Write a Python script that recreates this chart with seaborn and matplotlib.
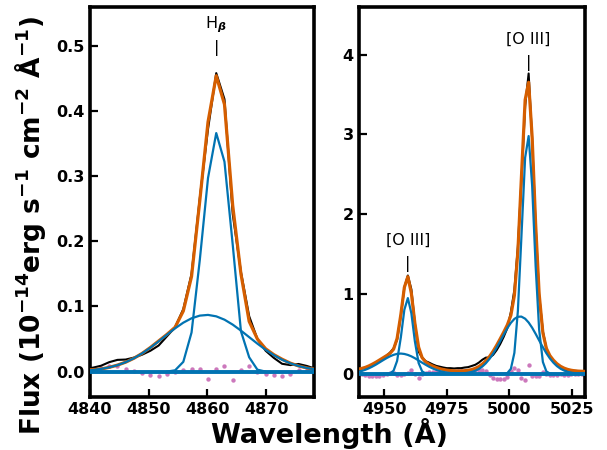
import matplotlib
matplotlib.use("Agg")
import matplotlib.pyplot as plt
import seaborn as sns

# ---------------- data ----------------
# H-beta panel
wl_l = [4839.1, 4840.5, 4841.9, 4843.3, 4844.7, 4846.1, 4847.5, 4848.9, 4850.3, 4851.7,
        4853.1, 4854.5, 4855.9, 4857.3, 4858.7, 4860.1, 4861.5, 4862.9, 4864.3, 4865.7,
        4867.1, 4868.5, 4869.9, 4871.3, 4872.7, 4874.1, 4875.5, 4876.9, 4878.3, 4879.7]
obs_l = [0.005, 0.006, 0.009, 0.0145, 0.018, 0.0185, 0.0215, 0.026, 0.032, 0.040,
         0.054, 0.068, 0.096, 0.150, 0.266, 0.372, 0.458, 0.418, 0.242, 0.153,
         0.085, 0.050, 0.032, 0.021, 0.012, 0.010, 0.0117, 0.0087, 0.0046, 0.003]
fit_l = [0.002, 0.003, 0.004, 0.0065, 0.010, 0.0145, 0.0205, 0.028, 0.037, 0.047,
         0.057, 0.068, 0.093, 0.146, 0.262, 0.383, 0.454, 0.410, 0.255, 0.150,
         0.077, 0.050, 0.035, 0.026, 0.019, 0.013, 0.0087, 0.0057, 0.0036, 0.0024]
broad_l = [0.0015, 0.0025, 0.0041, 0.0065, 0.0099, 0.0145, 0.0205, 0.0280, 0.0367, 0.0464,
           0.0565, 0.0664, 0.0751, 0.0818, 0.0859, 0.0870, 0.0848, 0.0797, 0.0721, 0.0629,
           0.0529, 0.0429, 0.0335, 0.0252, 0.0182, 0.0127, 0.0086, 0.0056, 0.0035, 0.0024]
narrow_l = [0.0, 0.002, 0.015, 0.060, 0.171, 0.297, 0.366, 0.322, 0.195, 0.062,
            0.022, 0.003, 0.0]          # wl_l[10:23]
resid_l = [0.003, 0.003, 0.005, 0.008, 0.008, 0.004, 0.001, -0.002, -0.005, -0.007,
           -0.003, 0.0, 0.003, 0.004, 0.004, -0.011, 0.004, 0.008, -0.013, 0.003,
           0.008, 0.0, -0.003, -0.005, -0.007, -0.003, 0.003, 0.003, 0.001, 0.0]

# [O III] panel
wl_r = [4939.5, 4940.9, 4942.4, 4943.8, 4945.2, 4946.6, 4948.0, 4949.5, 4950.9, 4952.3,
        4953.7, 4955.1, 4956.6, 4958.0, 4959.4, 4960.8, 4962.2, 4963.7, 4965.1, 4966.5,
        4967.9, 4969.3, 4970.8, 4972.2, 4973.6, 4975.0, 4976.4, 4977.9, 4979.3, 4980.7,
        4982.1, 4983.5, 4985.0, 4986.4, 4987.8, 4989.2, 4990.6, 4992.1, 4993.5, 4994.9,
        4996.3, 4997.7, 4999.2, 5000.6, 5002.0, 5003.4, 5004.8, 5006.3, 5007.7, 5009.1,
        5010.5, 5011.9, 5013.4, 5014.8, 5016.2, 5017.6, 5019.0, 5020.5, 5021.9, 5023.3,
        5024.7, 5026.1, 5027.6, 5029.0, 5030.4]
obs_r = [0.065, 0.070, 0.078, 0.085, 0.100, 0.126, 0.153, 0.192, 0.229, 0.268,
         0.320, 0.429, 0.729, 1.084, 1.233, 1.060, 0.637, 0.280, 0.204, 0.160,
         0.141, 0.119, 0.100, 0.090, 0.080, 0.072, 0.072, 0.068, 0.072, 0.072,
         0.080, 0.085, 0.100, 0.115, 0.142, 0.178, 0.204, 0.205, 0.239, 0.298,
         0.373, 0.463, 0.575, 0.774, 1.053, 1.591, 2.413, 3.357, 3.764, 2.939,
         1.857, 0.985, 0.533, 0.315, 0.219, 0.162, 0.118, 0.089, 0.062, 0.046,
         0.041, 0.039, 0.035, 0.033, 0.031]
fit_r = [0.060, 0.068, 0.082, 0.100, 0.122, 0.146, 0.173, 0.202, 0.229, 0.258,
         0.310, 0.444, 0.744, 1.084, 1.218, 1.010, 0.637, 0.335, 0.204, 0.150,
         0.121, 0.099, 0.080, 0.065, 0.055, 0.047, 0.042, 0.038, 0.037, 0.037,
         0.040, 0.045, 0.055, 0.070, 0.092, 0.123, 0.164, 0.220, 0.284, 0.358,
         0.438, 0.521, 0.615, 0.734, 0.983, 1.536, 2.458, 3.432, 3.654, 2.969,
         1.882, 1.005, 0.513, 0.320, 0.229, 0.172, 0.128, 0.094, 0.072, 0.056,
         0.046, 0.039, 0.035, 0.033, 0.031]
narrow4959 = [0.0, 0.001, 0.007, 0.041, 0.163, 0.459, 0.804, 0.95, 0.76, 0.41,
              0.137, 0.033, 0.005, 0.001, 0.0]                    # wl_r[7:22]
broad4959 = [0.025, 0.036, 0.052, 0.070, 0.092, 0.116, 0.143, 0.172, 0.198, 0.221,
             0.239, 0.251, 0.255, 0.250, 0.238, 0.220, 0.197, 0.168, 0.141, 0.115,
             0.090, 0.069, 0.050, 0.035, 0.025, 0.016, 0.011, 0.0065, 0.004, 0.0024,
             0.0014, 0.0]                                          # wl_r[0:32]
narrow5007 = [0.0, 0.001, 0.011, 0.064, 0.264, 0.79, 1.71, 2.71, 2.98, 2.36,
              1.35, 0.555, 0.149, 0.031, 0.005, 0.0005, 0.0, 0.0]   # wl_r[40:58]
broad5007 = [0.0005, 0.0012, 0.0026, 0.005, 0.0085, 0.015, 0.025, 0.040, 0.062, 0.093,
             0.134, 0.190, 0.254, 0.328, 0.408, 0.490, 0.574, 0.640, 0.689, 0.716,
             0.718, 0.692, 0.644, 0.579, 0.502, 0.420, 0.334, 0.259, 0.194, 0.141,
             0.098, 0.064, 0.042, 0.026, 0.016, 0.009, 0.005, 0.003, 0.001]  # wl_r[26:65]
resid_r = [0.0, -0.005, -0.01, -0.02, -0.025, -0.02, -0.02, -0.01, 0.0, 0.01,
           0.01, -0.015, -0.015, 0.0, 0.015, 0.05, 0.0, -0.055, 0.0, 0.01,
           0.02, 0.02, 0.02, 0.025, 0.025, 0.025, 0.03, 0.03, 0.035, 0.035,
           0.04, 0.04, 0.045, 0.045, 0.05, 0.055, 0.04, -0.015, -0.045, -0.06,
           -0.065, -0.058, -0.04, 0.04, 0.07, 0.055, -0.045, -0.075, 0.11, -0.03,
           -0.025, -0.02, 0.02, -0.005, -0.01, -0.01, -0.01, -0.005, -0.01, -0.01,
           -0.005, 0.0, 0.0, 0.0, 0.0]

# ---------------- styling ----------------
sns.set_theme(style="white")
plt.rcParams['font.family'] = ['DejaVu Sans']
plt.rcParams['mathtext.default'] = 'regular'
for key in ('text.color', 'axes.labelcolor', 'xtick.color', 'ytick.color', 'axes.edgecolor'):
    plt.rcParams[key] = 'black'

C_OBS = "#000000"
C_FIT = "#D55E00"
C_COMP = "#0173B2"
C_RES = "#CC78BC"

fig = plt.figure(figsize=(6.07, 4.5), dpi=100)
axL = fig.add_axes([0.148, 0.118, 0.370, 0.867])
axR = fig.add_axes([0.592, 0.118, 0.372, 0.867])


def draw(ax, wl, obs, fit, comps, resid):
    sns.scatterplot(x=wl, y=resid, ax=ax, color=C_RES, s=10, linewidth=0, zorder=1)
    sns.lineplot(x=wl, y=obs, ax=ax, color=C_OBS, lw=1.5, estimator=None, sort=False, zorder=2)
    sns.lineplot(x=wl, y=fit, ax=ax, color=C_FIT, lw=2.3, estimator=None, sort=False, zorder=3)
    for xs, ys in comps:
        sns.lineplot(x=xs, y=ys, ax=ax, color=C_COMP, lw=1.6, estimator=None, sort=False, zorder=4)
    ax.axhline(0, color=C_COMP, lw=2.8, zorder=5)


draw(axL, wl_l, obs_l, fit_l,
     [(wl_l, broad_l), (wl_l[10:23], narrow_l)], resid_l)
draw(axR, wl_r, obs_r, fit_r,
     [(wl_r[0:32], broad4959), (wl_r[7:22], narrow4959),
      (wl_r[26:65], broad5007), (wl_r[40:58], narrow5007)], resid_r)

axL.set_xlim(4840, 4878.2)
axL.set_ylim(-0.0388, 0.5598)
axL.set_xticks([4840, 4850, 4860, 4870])
axL.set_yticks([0.0, 0.1, 0.2, 0.3, 0.4, 0.5])
axL.set_yticklabels(["0.0", "0.1", "0.2", "0.3", "0.4", "0.5"])

axR.set_xlim(4940, 5030.3)
axR.set_ylim(-0.288, 4.60)
axR.set_xticks([4950, 4975, 5000, 5025])
axR.set_yticks([0, 1, 2, 3, 4])

for ax in (axL, axR):
    ax.set_xlabel("")
    ax.set_ylabel("")
    for sp in ax.spines.values():
        sp.set_linewidth(2.6)
        sp.set_color("black")
    ax.tick_params(direction="in", length=6, width=1.6, labelsize=11.5, colors="black",
                   bottom=True, left=True, top=False, right=False, pad=4)
    for lab in ax.get_xticklabels() + ax.get_yticklabels():
        lab.set_fontweight("bold")

# line identifications
axL.text(4861.5, 0.532, r"H$_{\boldsymbol{\beta}}$", ha="center", va="center", fontsize=11.5)
axL.text(4861.5, 0.497, "|", ha="center", va="center", fontsize=11.5)
axR.text(4959.4, 1.68, "[O III]", ha="center", va="center", fontsize=11.5)
axR.text(4959.4, 1.38, "|", ha="center", va="center", fontsize=11.5)
axR.text(5007.6, 4.19, "[O III]", ha="center", va="center", fontsize=11.5)
axR.text(5007.6, 3.90, "|", ha="center", va="center", fontsize=11.5)

fig.text(0.05, 0.499,
         r"Flux (10$^{\mathbf{-14}}$erg s$^{\mathbf{-1}}$ cm$^{\mathbf{-2}}$ Å$^{\mathbf{-1}}$)",
         rotation=90, ha="center", va="center", fontsize=19, fontweight="bold")
fig.text(0.543, 0.037, "Wavelength (Å)", ha="center", va="center",
         fontsize=19.5, fontweight="bold")

fig.savefig("out.png", dpi=100)
